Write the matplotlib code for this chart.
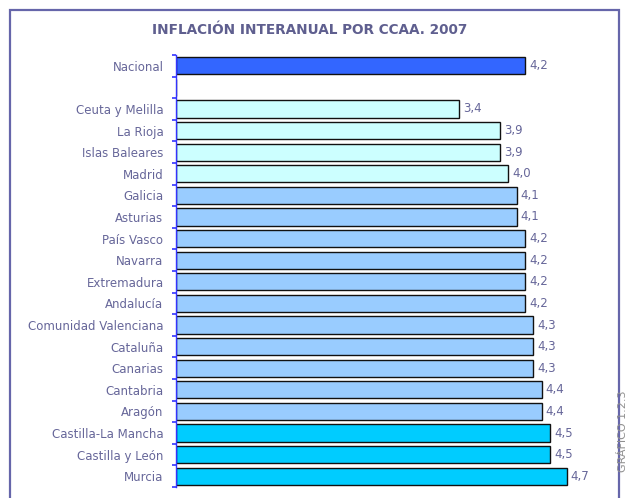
import matplotlib.pyplot as plt
from matplotlib.patches import Rectangle
import numpy as np

# data
national_label = "Nacional"
national_value = 4.2

regions = ["Ceuta y Melilla", "La Rioja", "Islas Baleares", "Madrid", "Galicia",
           "Asturias", "País Vasco", "Navarra", "Extremadura", "Andalucía",
           "Comunidad Valenciana", "Cataluña", "Canarias", "Cantabria", "Aragón",
           "Castilla-La Mancha", "Castilla y León", "Murcia"]
region_values = [3.4, 3.9, 3.9, 4.0, 4.1, 4.1, 4.2, 4.2, 4.2, 4.2,
                 4.3, 4.3, 4.3, 4.4, 4.4, 4.5, 4.5, 4.7]

title = "INFLACIÓN INTERANUAL POR CCAA. 2007"
side_note = "GRÁFICO 1.2.3"

text_color = "#666699"


def bar_color(v):
    if v <= 4.0:
        return "#CCFFFF"
    if v < 4.5:
        return "#99CCFF"
    return "#00CCFF"


fig = plt.figure(figsize=(6.29, 4.98), dpi=100)
W, H = 629, 498

# outer frame
fig.patches.append(Rectangle((10 / W, -0.05), 609 / W, 1.05 - 10 / H,
                             transform=fig.transFigure, fill=False,
                             edgecolor="#6666AA", lw=1.6))

fig.text(309.5 / W, 1 - 30 / H, title, ha="center", va="center",
         fontsize=9.8, fontweight="bold", color="#5F5F8F")

ax = fig.add_axes([176 / W, 1 - 487 / H, 415.5 / W, 432 / H])

labels = [national_label, ""] + regions
values = [national_value, np.nan] + region_values
colors = ["#3366FF", "white"] + [bar_color(v) for v in region_values]
pos = np.arange(len(labels))

ax.barh(pos, np.nan_to_num(values), height=0.8, color=colors,
        edgecolor="#111111", linewidth=1.0)

for p, v in zip(pos, values):
    if np.isnan(v):
        continue
    ax.text(v + 0.05, p, f"{v:.1f}".replace(".", ","), va="center", ha="left",
            fontsize=8.5, color=text_color)

ax.set_xlim(0, 5.0)
ax.set_ylim(len(labels) - 0.5, -0.5)
ax.set_yticks(pos)
ax.set_yticklabels(labels, fontsize=8.5, color=text_color)
ax.tick_params(axis="y", which="major", length=0, pad=9)
ax.set_yticks(np.arange(-0.5, len(labels), 1.0), minor=True)
ax.tick_params(axis="y", which="minor", length=3, color="#3333FF", width=1.2)
ax.set_xticks([])

for s in ["top", "right", "bottom"]:
    ax.spines[s].set_visible(False)
ax.spines["left"].set_color("#3333FF")
ax.spines["left"].set_linewidth(1.0)

fig.text(623.5 / W, 1 - 390 / H, side_note, rotation=90, ha="center", va="top",
         fontsize=8, color="#909090")

fig.savefig("out.png", dpi=100)
